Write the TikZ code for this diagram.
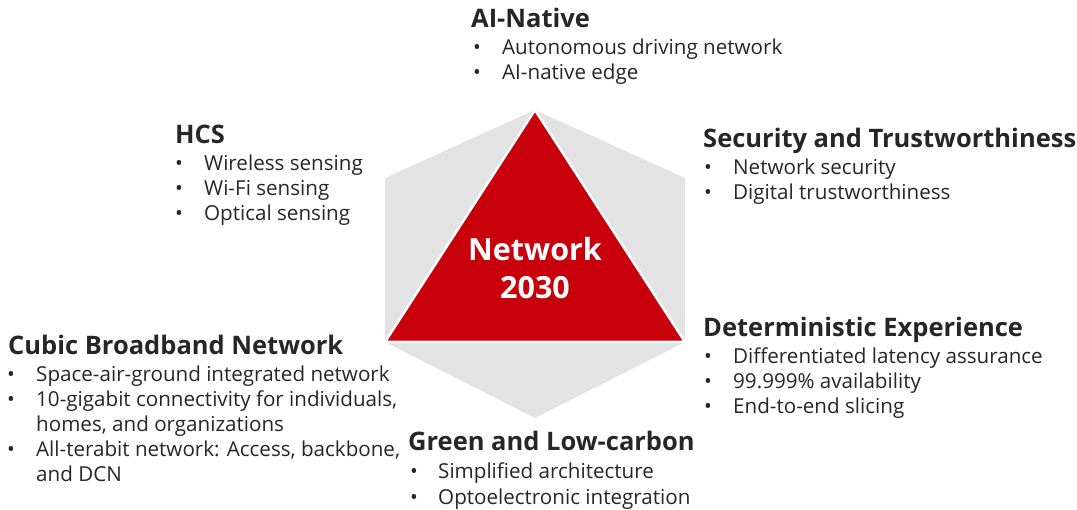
\documentclass[tikz,border=0pt]{standalone}
\usepackage{fontspec}
\setmainfont{Open Sans}
\definecolor{hwred}{RGB}{199,0,11}
\definecolor{hexgray}{RGB}{227,227,227}
\definecolor{txt}{RGB}{38,38,38}
\tikzset{
  head/.style={anchor=base west, inner sep=0pt, font=\fontsize{25.5}{30}\selectfont\bfseries, text=txt},
  body/.style={anchor=base west, inner sep=0pt, font=\fontsize{20.6}{24}\selectfont, text=txt},
  bul/.style={anchor=base west, inner sep=0pt, font=\fontsize{20.6}{24}\selectfont, text=txt},
  center/.style={anchor=base, inner sep=0pt, font=\fontsize{30.5}{34}\selectfont\bfseries, text=white}
}
\begin{document}
\begin{tikzpicture}[x=1pt,y=-1pt]
\useasboundingbox (0,0) rectangle (1077,510);
% hexagon
\fill[hexgray] (535,110) -- (685,178) -- (685,342) -- (535,418) -- (385,342) -- (385,178) -- cycle;
% triangle
\fill[hwred, draw=white, line width=2.5pt, line join=miter] (535,110) -- (685,342) -- (385,342) -- cycle;
\node[center] (n1) at (535,261) {Network};
\node[center] (n2) at (535,299) {2030};
% AI-Native
\node[head] (ai) at (471,28) {AI-Native};
\node[bul] (aib1) at (473,55) {•}; \node[body] (ai1) at (502,55) {Autonomous driving network};
\node[bul] (aib2) at (473,80) {•}; \node[body] (ai2) at (502,80) {AI-native edge};
% HCS
\node[head] (hcs) at (175,144) {HCS};
\node[bul] (hb1) at (175,171) {•}; \node[body] (h1) at (204,171) {Wireless sensing};
\node[bul] (hb2) at (175,196) {•}; \node[body] (h2) at (204,196) {Wi-Fi sensing};
\node[bul] (hb3) at (175,221) {•}; \node[body] (h3) at (204,221) {Optical sensing};
% Security
\node[head] (sec) at (703,148) {Security and Trustworthiness};
\node[bul] (sb1) at (704,175) {•}; \node[body] (s1) at (733,175) {Network security};
\node[bul] (sb2) at (704,200) {•}; \node[body] (s2) at (733,200) {Digital trustworthiness};
% Deterministic
\node[head] (det) at (703,337) {Deterministic Experience};
\node[bul] (db1) at (704,364) {•}; \node[body] (d1) at (733,364) {Differentiated latency assurance};
\node[bul] (db2) at (704,389) {•}; \node[body] (d2) at (733,389) {99.999\% availability};
\node[bul] (db3) at (704,414) {•}; \node[body] (d3) at (733,414) {End-to-end slicing};
% Cubic
\node[head] (cub) at (8,355) {Cubic Broadband Network};
\node[bul] (cb1) at (7,382) {•}; \node[body] (c1) at (36,382) {Space-air-ground integrated network};
\node[bul] (cb2) at (7,407) {•}; \node[body] (c2) at (36,407) {10-gigabit connectivity for individuals,};
\node[body] (c2b) at (36,432) {homes, and organizations};
\node[bul] (cb3) at (7,457) {•}; \node[body] (c3) at (36,457) {All-terabit network: Access, backbone,};
\node[body] (c3b) at (36,482) {and DCN};
% Green
\node[head] (gr) at (408,451) {Green and Low-carbon};
\node[bul] (gb1) at (410,479) {•}; \node[body] (g1) at (438,479) {Simplified architecture};
\node[bul] (gb2) at (410,504) {•}; \node[body] (g2) at (438,504) {Optoelectronic integration};
\end{tikzpicture}
\end{document}
